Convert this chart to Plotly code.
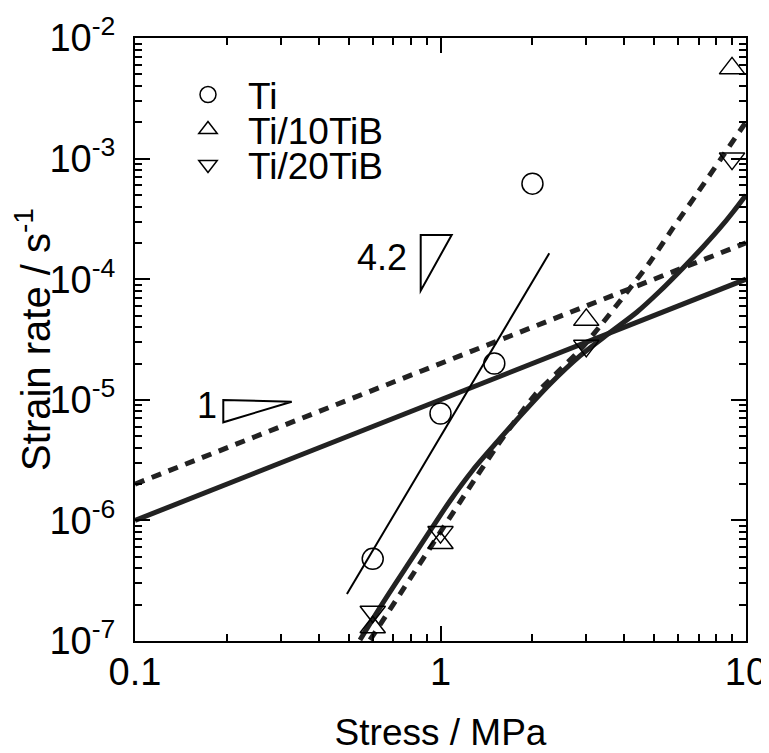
import plotly.graph_objects as go

# ---- data ----
ti_x = [0.6, 1.0, 1.5, 2.0]
ti_y = [4.8e-7, 7.7e-6, 2.0e-5, 6.2e-4]

ti10_x = [0.6, 1.0, 3.0, 9.0]
ti10_y = [1.3e-7, 6.5e-7, 4.6e-5, 5.6e-3]

ti20_x = [0.6, 1.0, 3.0, 9.0]
ti20_y = [1.75e-7, 8.0e-7, 2.8e-5, 1.0e-3]

# straight fits (slope 1)
lin_solid_x = [0.1, 10.0]
lin_solid_y = [1.0e-6, 1.0e-4]
lin_dash_x = [0.1, 10.0]
lin_dash_y = [2.0e-6, 2.0e-4]

# thin fit through Ti (slope 4.2)
ti_fit_x = [0.494, 2.27]
ti_fit_y = [2.45e-7, 1.64e-4]

# curved fits
curve_solid_x = [0.545, 0.648, 0.777, 0.924, 1.074, 1.277, 1.531, 1.727, 2.283, 2.861,
                 3.57, 4.40, 5.23, 6.22, 7.23, 8.22, 9.07, 10.0]
curve_solid_y = [1.02e-7, 2.07e-7, 4.19e-7, 8.17e-7, 1.45e-6, 2.62e-6, 4.47e-6, 6.30e-6, 1.35e-5, 2.31e-5,
                 3.58e-5, 5.35e-5, 7.98e-5, 1.24e-4, 1.85e-4, 2.66e-4, 3.61e-4, 4.99e-4]

curve_dash_x = [0.588, 0.658, 0.737, 0.825, 0.924, 1.034, 1.158, 1.297, 1.531, 1.754, 2.039, 2.461,
                2.861, 3.33, 4.08, 4.85, 5.77, 6.97, 8.35, 10.0]
curve_dash_y = [1.02e-7, 1.58e-7, 2.45e-7, 3.80e-7, 5.90e-7, 9.16e-7, 1.42e-6, 2.20e-6, 4.14e-6, 6.67e-6,
                1.10e-5, 1.77e-5, 2.59e-5, 4.09e-5, 7.83e-5, 1.39e-4, 2.66e-4, 5.28e-4, 1.03e-3, 2.01e-3]

x_ticks = [0.1, 1, 10]
x_ticktext = ["0.1", "1", "10"]
y_ticks = [1e-7, 1e-6, 1e-5, 1e-4, 1e-3, 1e-2]
y_ticktext = ["10<sup>-7</sup>", "10<sup>-6</sup>", "10<sup>-5</sup>", "10<sup>-4</sup>",
              "10<sup>-3</sup>", "10<sup>-2</sup>"]
x_minor = [m * 10 ** e for e in (-1, 0) for m in range(2, 10)]
y_minor = [m * 10 ** e for e in range(-7, -2) for m in range(2, 10)]

FONT = "Liberation Sans, Arial, sans-serif"
LINE = "#222222"

fig = go.Figure()

fig.add_trace(go.Scatter(x=lin_solid_x, y=lin_solid_y, mode="lines",
                         line=dict(color=LINE, width=5), showlegend=False, hoverinfo="skip"))
fig.add_trace(go.Scatter(x=lin_dash_x, y=lin_dash_y, mode="lines",
                         line=dict(color=LINE, width=5, dash="10px,8px"), showlegend=False, hoverinfo="skip"))
fig.add_trace(go.Scatter(x=ti_fit_x, y=ti_fit_y, mode="lines",
                         line=dict(color="black", width=2), showlegend=False, hoverinfo="skip"))
fig.add_trace(go.Scatter(x=curve_solid_x, y=curve_solid_y, mode="lines", line_shape="spline",
                         line=dict(color=LINE, width=5, smoothing=0.8), showlegend=False, hoverinfo="skip"))
fig.add_trace(go.Scatter(x=curve_dash_x, y=curve_dash_y, mode="lines", line_shape="spline",
                         line=dict(color=LINE, width=5, dash="10px,8px", smoothing=0.8),
                         showlegend=False, hoverinfo="skip"))

fig.add_trace(go.Scatter(x=ti_x, y=ti_y, mode="markers", name="Ti", legend="legend",
                         marker=dict(symbol="circle-open", size=21, color="black", line=dict(width=1.5)),
                         cliponaxis=False))
fig.add_trace(go.Scatter(x=ti10_x, y=ti10_y, mode="markers", name="Ti/10TiB", legend="legend2",
                         marker=dict(symbol="triangle-up-open", size=22, color="black", line=dict(width=1.5)),
                         cliponaxis=False))
fig.add_trace(go.Scatter(x=ti20_x, y=ti20_y, mode="markers", name="Ti/20TiB", legend="legend3",
                         marker=dict(symbol="triangle-down-open", size=22, color="black", line=dict(width=1.5)),
                         cliponaxis=False))

axis_common = dict(type="log", showgrid=False, zeroline=False, showline=True, linecolor="black",
                   linewidth=2, mirror="allticks", ticks="inside", ticklen=15, tickwidth=1.5,
                   tickcolor="black", tickfont=dict(family=FONT, size=38, color="black"),
                   tickmode="array", automargin=False)

fig.update_xaxes(**axis_common, range=[-1, 1], tickvals=x_ticks, ticktext=x_ticktext,
                 ticklabelstandoff=-4,
                 minor=dict(tickmode="array", tickvals=x_minor, ticks="inside", ticklen=7,
                            tickwidth=1.5, tickcolor="black"),
                 title=dict(text="Stress / MPa", font=dict(family=FONT, size=37, color="black"),
                            standoff=29))
fig.update_yaxes(**axis_common, range=[-7, -2], tickvals=y_ticks, ticktext=y_ticktext,
                 ticklabelstandoff=10,
                 minor=dict(tickmode="array", tickvals=y_minor, ticks="inside", ticklen=7,
                            tickwidth=1.5, tickcolor="black"),
                 title=dict(text="Strain rate / s<sup>-1</sup>", font=dict(family=FONT, size=40, color="black"),
                            standoff=21))

shapes = [
    dict(type="path", xref="paper", yref="paper",
         path="M 0.1445 0.3997 L 0.1445 0.3627 L 0.2565 0.3968 Z",
         line=dict(color="black", width=2)),
    dict(type="path", xref="paper", yref="paper",
         path="M 0.4676 0.6733 L 0.5183 0.6733 L 0.4676 0.5809 Z",
         line=dict(color="black", width=2)),
]
annotations = [
    dict(text="1", xref="paper", yref="paper", x=0.098, y=0.391, showarrow=False,
         font=dict(family=FONT, size=36, color="black")),
    dict(text="4.2", xref="paper", yref="paper", x=0.405, y=0.636, showarrow=False,
         font=dict(family=FONT, size=36, color="black")),
]

leg_common = dict(x=0.054, xanchor="left", yanchor="middle", bgcolor="rgba(0,0,0,0)",
                  font=dict(family=FONT, size=37, color="black"), itemwidth=70)

# the page body adds an 8px offset; size the figure so the plot area lands where the reference has it
fig.update_layout(
    width=761, height=745,
    margin=dict(l=127, r=23, t=30, b=112),
    plot_bgcolor="white", paper_bgcolor="white",
    font=dict(family=FONT, color="black"),
    shapes=shapes, annotations=annotations,
    legend=dict(**leg_common, y=0.9055),
    legend2=dict(**leg_common, y=0.8474),
    legend3=dict(**leg_common, y=0.7894),
)

fig.write_html("out.html")
